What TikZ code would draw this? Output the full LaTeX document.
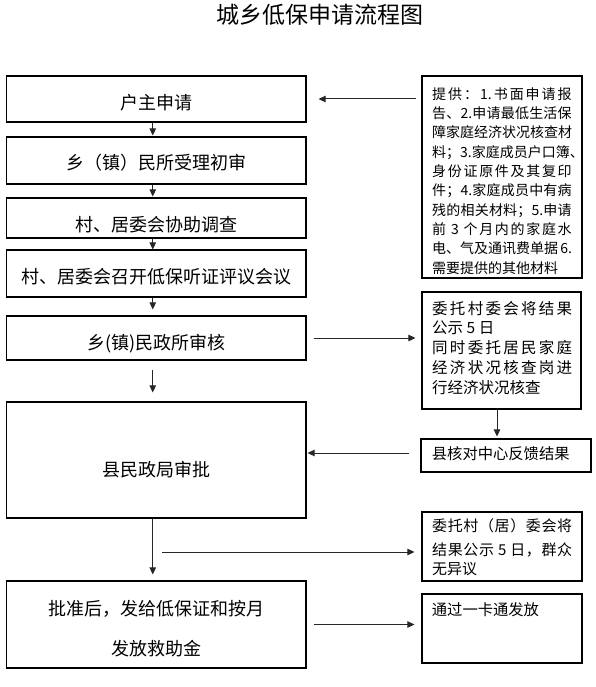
\documentclass[tikz,border=0pt]{standalone}
\usepackage{fontspec}
\setmainfont{Noto Sans CJK SC}
\usetikzlibrary{arrows.meta}
\def\spreadstop{\spreadstop}
\def\spreadstopM{\spreadstop}
\def\spreadfirst#1{#1\spreadnext}
\def\spreadnext#1{\def\sptmp{#1}\ifx\sptmp\spreadstopM\else\hfil#1\expandafter\spreadnext\fi}
\newcommand\spl[2]{\hbox to #1{\spreadfirst#2\spreadstop}}
\newcommand\pll[1]{\hbox{#1}}
\tikzset{
  box/.style={draw=black, line width=1.2pt, inner sep=0pt, rectangle},
  lbl/.style={inner sep=0pt, anchor=base, font=\fontsize{18}{22}\selectfont},
  rlbl/.style={inner sep=0pt, anchor=base west},
  arr/.style={-{Triangle[length=7pt,width=6.5pt]}, line width=1pt, draw=black!85},
}
\begin{document}
\begin{tikzpicture}[x=1pt,y=-1pt]
\fill[white] (0,0) rectangle (596,687);
\useasboundingbox (0,0) rectangle (596,687);

\node[inner sep=0pt, anchor=base, font=\fontsize{23}{28}\selectfont] (title) at (320,23.7) {城乡低保申请流程图};

% left column boxes
\node[box, minimum width=299.5pt, minimum height=46pt] (b1) at (156.25,99) {};
\node[box, minimum width=299.5pt, minimum height=47pt] (b2) at (156.25,160.5) {};
\node[box, minimum width=299.5pt, minimum height=40pt] (b3) at (156.25,218) {};
\node[box, minimum width=299.5pt, minimum height=47pt] (b4) at (156.25,273.5) {};
\node[box, minimum width=299.5pt, minimum height=44pt] (b5) at (156.25,338) {};
\node[box, minimum width=299.5pt, minimum height=116pt] (b6) at (156.25,460) {};
\node[box, minimum width=299.5pt, minimum height=87pt] (b7) at (156.25,624.5) {};

\node[lbl] (t1) at (156.5,109.8) {户主申请};
\node[lbl] (t2) at (156.5,169.8) {乡（镇）民所受理初审};
\node[lbl] (t3) at (156.5,231.8) {村、居委会协助调查};
\node[lbl] (t4) at (156.5,283.8) {村、居委会召开低保听证评议会议};
\node[lbl] (t5) at (156.5,349.8) {乡(镇)民政所审核};
\node[lbl] (t6) at (156.5,476.8) {县民政局审批};
\node[lbl] (t7a) at (156.5,615.8) {批准后，发给低保证和按月};
\node[lbl] (t7b) at (156.5,655.8) {发放救助金};

% right column boxes
\node[box, minimum width=160pt, minimum height=202pt] (r1) at (502,177) {};
\node[box, minimum width=159pt, minimum height=117pt] (r2) at (501.5,350.5) {};
\node[box, minimum width=170pt, minimum height=33pt] (r3) at (506,455.5) {};
\node[box, minimum width=160pt, minimum height=69pt] (r4) at (502,546.5) {};
\node[box, minimum width=160pt, minimum height=69pt] (r5) at (502,628.5) {};

\node[rlbl, font=\fontsize{14}{19.33}\selectfont] (s1) at (432,99.3) {\vtop{%
\spl{139.5pt}{提供：{1.}书面申请报}
\spl{139.5pt}{告、{2.}申请最低生活保}
\spl{139.5pt}{障家庭经济状况核查材}
\spl{139.5pt}{料；{3.}家庭成员户口簿、}
\spl{139.5pt}{身份证原件及其复印}
\spl{139.5pt}{件；{4.}家庭成员中有病}
\spl{139.5pt}{残的相关材料；{5.}申请}
\spl{139.5pt}{前{ 3 }个月内的家庭水}
\spl{139.5pt}{电、气及通讯费单据{ 6.}}
\pll{需要提供的其他材料}}};

\node[rlbl, font=\fontsize{15.5}{19.75}\selectfont] (s2) at (432,314.2) {\vtop{%
\spl{140pt}{委托村委会将结果}
\pll{公示 5 日}
\spl{140pt}{同时委托居民家庭}
\spl{140pt}{经济状况核查岗进}
\pll{行经济状况核查}}};

\node[rlbl, font=\fontsize{15.3}{19}\selectfont] (s3) at (431.7,459.1) {县核对中心反馈结果};

\node[rlbl, font=\fontsize{15}{19.7}\selectfont] (s4) at (432,531.5) {\vtop{%
\spl{140pt}{委托村（居）委会将}
\vskip3.9pt
\spl{140pt}{结果公示{ 5 }日，群众}
\pll{无异议}}};

\node[rlbl, font=\fontsize{15.3}{19}\selectfont] (s5) at (431.7,615.8) {通过一卡通发放};

% connectors
\draw[arr, shorten >=1pt] ([xshift=-3.5pt]b1.south) -- ([xshift=-3.5pt]b2.north);
\draw[arr, shorten >=1pt] ([xshift=-3.5pt]b2.south) -- ([xshift=-3.5pt]b3.north);
\draw[arr] ([xshift=-3.5pt]b3.south) -- ([xshift=-3.5pt]b4.north);
\draw[arr, shorten >=6pt] ([xshift=-3.5pt]b4.south) -- ([xshift=-3.5pt]b5.north);
\draw[arr, shorten <=9pt, shorten >=9pt] ([xshift=-3.5pt]b5.south) -- ([xshift=-3.5pt]b6.north);
\draw[arr, shorten >=6pt] ([xshift=-3.5pt]b6.south) -- ([xshift=-3.5pt]b7.north);

\draw[arr, shorten <=5pt, shorten >=12pt] (r1.west |- b1.east) -- (b1.east);
\draw[arr, shorten <=7pt, shorten >=6pt] (b5.east) -- (b5.east -| r2.west);
\draw[arr, shorten >=2pt] ([xshift=-4.5pt]r2.south) -- ([xshift=-4.5pt]r2.south |- r3.north);
\draw[arr, shorten <=11pt, shorten >=1pt] ([yshift=2.5pt]r3.west) -- ([yshift=2.5pt]r3.west -| b6.east);
\coordinate (c1) at (162,552);
\draw[arr, shorten >=7pt] (c1) -- (c1 -| r4.west);
\draw[arr, shorten <=7pt, shorten >=7pt] (b7.east) -- (b7.east -| r5.west);
\end{tikzpicture}
\end{document}
